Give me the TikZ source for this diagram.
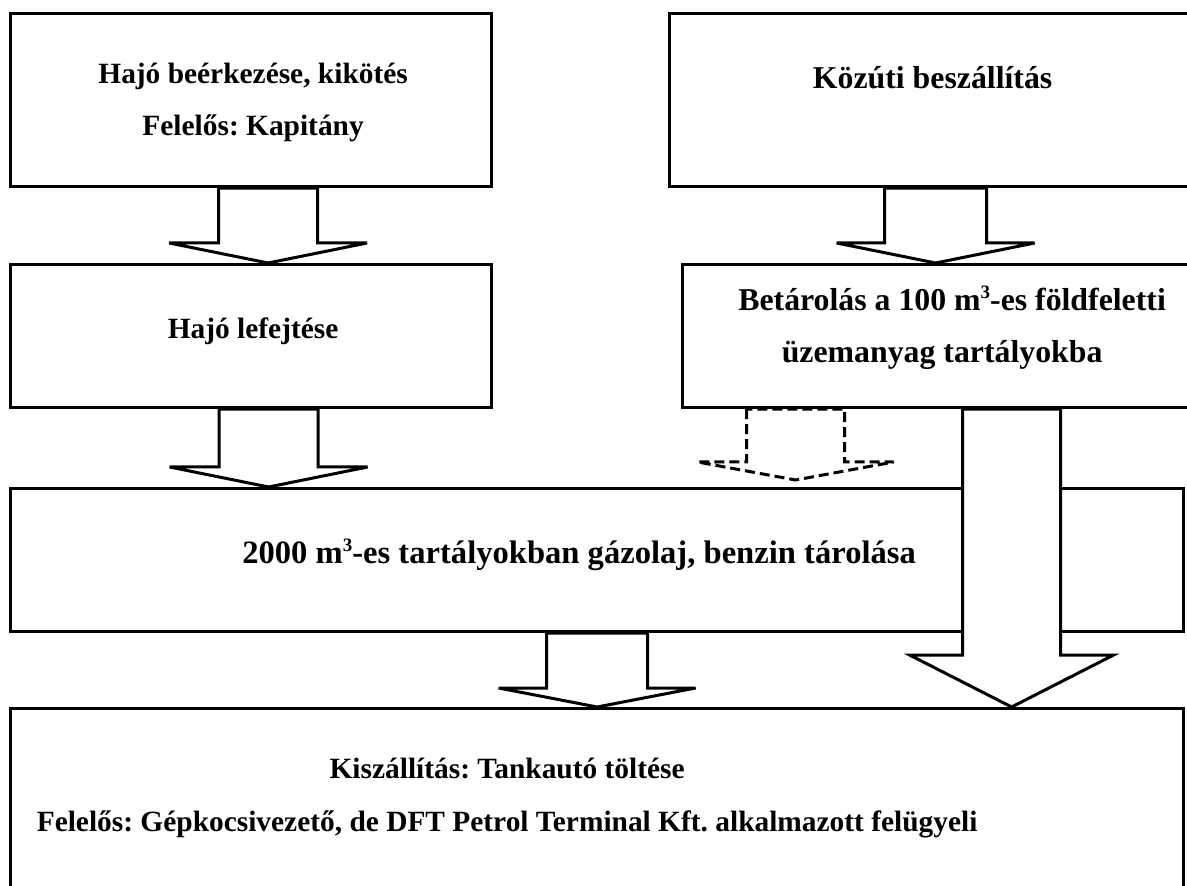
\documentclass[tikz,border=0pt]{standalone}
\usepackage{fontspec}
\setmainfont{Liberation Serif}
\usetikzlibrary{calc}
\frenchspacing

\tikzset{
  box/.style={draw, line width=1.6pt, fill=white, inner sep=0pt, anchor=north west},
  txt/.style={font=\fontsize{14.7}{17}\selectfont\bfseries, inner sep=0pt,
    text height=1.5ex, text depth=.25ex},
  bigtxt/.style={txt, font=\fontsize{15.9}{18}\selectfont\bfseries},
  widetxt/.style={txt, font=\fontsize{16.3}{18}\selectfont\bfseries},
  hollow/.style={draw, line width=1.5pt, fill=white, line join=miter},
  hollowdash/.style={hollow, dash pattern=on 5pt off 2.5pt}
}
\newcommand{\cube}{\raisebox{.85ex}{\fontsize{9.5}{9.5}\selectfont 3}}
% block arrow: style, start, target, half shaft, half head, head length
\newcommand{\blockarrow}[6]{%
  \draw[#1] let \p1=(#2), \p2=(#3) in
    (\x1-#4,\y1) -- (\x1-#4,\y2+#6) -- (\x1-#5,\y2+#6) -- (\x1,\y2)
    -- (\x1+#5,\y2+#6) -- (\x1+#4,\y2+#6) -- (\x1+#4,\y1) -- cycle;}

\begin{document}
\begin{tikzpicture}[x=0.5pt, y=-0.5pt]
\useasboundingbox (0,0) rectangle (1187,886);
\clip (0,0) rectangle (1187,886);

\node[box, minimum width=240.5pt, minimum height=86.5pt] (ship) at (9,12) {};
\node[box, minimum width=261pt, minimum height=86.5pt] (road) at (668,12) {};
\node[box, minimum width=240.5pt, minimum height=71.5pt] (unload) at (9,263) {};
\node[box, minimum width=254.5pt, minimum height=71.5pt] (store) at (681,263) {};
\node[box, minimum width=586.5pt, minimum height=71.5pt] (tanks) at (9,487) {};
\node[box, minimum width=586.5pt, minimum height=100pt] (delivery) at (9,707) {};

\path (ship.north) +(2,66) node[txt] (shipA) {Hajó beérkezése, kikötés}
    +(2,118) node[txt] (shipB) {Felelős: Kapitány};
\path (road.north) +(2,71) node[bigtxt] (roadA) {Közúti beszállítás};
\path (unload.north) +(2,70) node[txt] (unloadA) {Hajó lefejtése};
\path (store.north) +(15,42) node[bigtxt] (storeA)
    {Betárolás a 100 m\cube-es földfeletti}
    +(5,94) node[bigtxt] (storeB) {üzemanyag tartályokba};
\path (tanks.north) +(-18,71) node[widetxt] (tanksA)
    {2000 m\cube-es tartályokban gázolaj, benzin tárolása};
\path (delivery.north) +(-90,66) node[txt] (deliveryA)
    {Kiszállítás: Tankautó töltése}
    +(-90,119) node[txt] (deliveryB)
    {Felelős: Gépkocsivezető, de DFT Petrol Terminal Kft. alkalmazott felügyeli};

\blockarrow{hollow}{$(ship.south)+(17,0)$}{unload.north}{24.75pt}{49.5pt}{10pt}
\blockarrow{hollow}{$(road.south)+(5,0)$}{store.north}{25.5pt}{49.5pt}{10pt}
\blockarrow{hollow}{$(unload.south)+(17.5,0)$}{tanks.north}{24.75pt}{49.5pt}{10pt}
\blockarrow{hollowdash}{$(store.south)+(-141.5,0)$}{$(tanks.north)+(0,-7)$}{24.5pt}{49pt}{9pt}
\blockarrow{hollow}{tanks.south}{delivery.north}{25.25pt}{49.25pt}{9.5pt}
\blockarrow{hollow}{$(store.south)+(74.5,0)$}{delivery.north}{24.5pt}{51pt}{26pt}
\end{tikzpicture}
\end{document}
